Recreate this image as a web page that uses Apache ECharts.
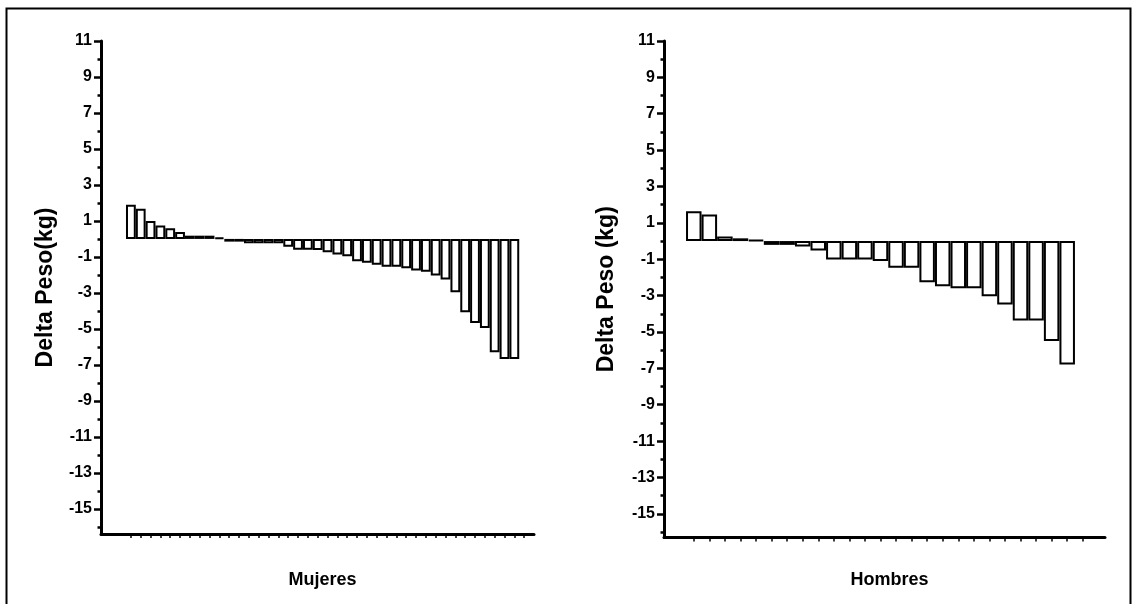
<!DOCTYPE html>
<html>
<head>
<meta charset="utf-8">
<script src="https://cdn.jsdelivr.net/npm/echarts@6/dist/echarts.min.js"></script>
<style>
  html, body { margin: 0; padding: 0; background: #fff; }
  #chart { width: 1138px; height: 604px; }
</style>
</head>
<body>
<div id="chart"></div>
<script>
// Delta de peso (kg) por sujeto, ordenado de mayor a menor
const mujeres = [1.9, 1.67, 1.0, 0.74, 0.59, 0.39, 0.18, 0.18, 0.18, 0.08,
  -0.15, -0.15, -0.24, -0.24, -0.24, -0.24, -0.43, -0.6, -0.6, -0.61,
  -0.74, -0.87, -0.96, -1.24, -1.32, -1.43, -1.54, -1.54, -1.63, -1.76,
  -1.83, -2.04, -2.26, -2.96, -4.07, -4.67, -4.95, -6.3, -6.67, -6.67];
const hombres = [1.64, 1.46, 0.25, 0.15, 0.05, -0.21, -0.21, -0.3, -0.52, -1.02,
  -1.02, -1.02, -1.09, -1.47, -1.47, -2.26, -2.48, -2.59, -2.59, -3.03,
  -3.49, -4.37, -4.37, -5.49, -6.79];

// ticks del eje y
const yLabels = [-15, -13, -11, -9, -7, -5, -3, -1, 1, 3, 5, 7, 9, 11];
const yMinor = [-16, -14, -12, -10, -8, -6, -4, -2, 0, 2, 4, 6, 8, 10];
const xTicksM = [];
for (let i = 1; i <= 41; i++) xTicksM.push(i);
const xTicksH = [];
for (let i = 1; i <= 26; i++) xTicksH.push(i);

const font = 'Liberation Sans, Arial, sans-serif';
const black = '#000';

let chart = echarts.init(document.getElementById('chart'));

function yAxes(g, min, title, gap) {
  return [{
    gridIndex: g,
    type: 'value',
    min: min,
    max: 11,
    position: 'left',
    axisLine: { show: true, onZero: false, lineStyle: { color: black, width: 3 } },
    axisTick: { show: true, customValues: yLabels, length: 7, lineStyle: { color: black, width: 2.5 } },
    axisLabel: { customValues: yLabels, color: black, fontWeight: 'bold', fontSize: 16, fontFamily: font, margin: 9 },
    splitLine: { show: false },
    name: title,
    nameLocation: 'middle',
    nameRotate: 90,
    nameGap: gap,
    nameTextStyle: { color: black, fontWeight: 'bold', fontSize: 23, fontFamily: font }
  }, {
    // ticks menores
    gridIndex: g,
    type: 'value',
    min: min,
    max: 11,
    position: 'left',
    axisLine: { show: false, onZero: false },
    axisTick: { show: true, customValues: yMinor, length: 3.5, lineStyle: { color: black, width: 2.5 } },
    axisLabel: { show: false },
    splitLine: { show: false }
  }];
}

function xAxis(g, min, max, ticks, title, gap) {
  return {
    gridIndex: g,
    type: 'value',
    min: min,
    max: max,
    axisLine: { show: true, onZero: false, lineStyle: { color: black, width: 3 } },
    axisTick: { show: true, customValues: ticks, length: 4, lineStyle: { color: black, width: 1.5 } },
    axisLabel: { show: false },
    splitLine: { show: false },
    name: title,
    nameLocation: 'middle',
    nameGap: gap,
    nameTextStyle: { color: black, fontWeight: 'bold', fontSize: 18, fontFamily: font, padding: [0, 0, 0, 10] }
  };
}

let option = {
  backgroundColor: '#fff',
  animation: false,
  graphic: [{
    type: 'rect',
    shape: { x: 6.5, y: 8.5, width: 1124, height: 700 },
    style: { fill: 'none', stroke: black, lineWidth: 2 }
  }],
  grid: [
    { left: 101, top: 41, width: 433, height: 493 },
    { left: 664, top: 41, width: 441, height: 496.5 }
  ],
  xAxis: [
    xAxis(0, -2.04, 42, xTicksM, 'Mujeres', 37),
    xAxis(1, -0.914, 27.43, xTicksH, 'Hombres', 34)
  ],
  yAxis: yAxes(0, -16.4, 'Delta Peso(kg)', 44).concat(yAxes(1, -16.3, 'Delta Peso (kg)', 46)),
  series: [{
    type: 'bar',
    xAxisIndex: 0,
    yAxisIndex: 0,
    barWidth: 9.8,
    itemStyle: { color: '#fff', borderColor: black, borderWidth: 2 },
    data: mujeres.map((v, i) => [i + 1, v])
  }, {
    type: 'bar',
    xAxisIndex: 1,
    yAxisIndex: 2,
    barWidth: 15.5,
    itemStyle: { color: '#fff', borderColor: black, borderWidth: 2 },
    data: hombres.map((v, i) => [i + 1, v])
  }]
};

chart.setOption(option);
window.onresize = function () {
  chart.resize();
};
</script>
</body>
</html>
